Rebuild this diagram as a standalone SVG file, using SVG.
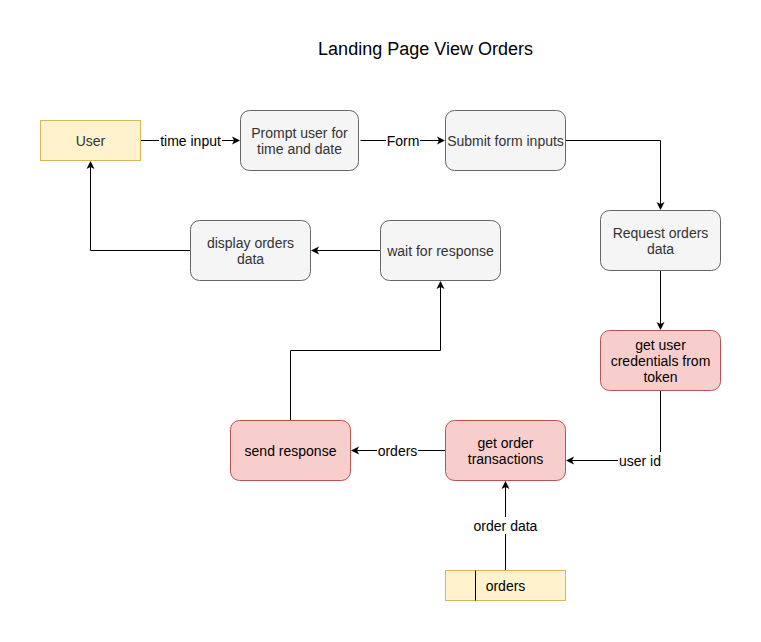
<svg xmlns="http://www.w3.org/2000/svg" width="761" height="642" viewBox="0 0 761 642">
<defs>
<marker id="arr" markerWidth="10" markerHeight="10" refX="7" refY="5" orient="auto" markerUnits="userSpaceOnUse">
<path d="M0,1 L8,5 L0,9 L2,5 Z" fill="#000"/>
</marker>
<style>
text{font-family:"Liberation Sans",Arial,sans-serif;font-size:14px;text-anchor:middle}
.proc{fill:#f5f5f5;stroke:#666;stroke-width:1}
.red{fill:#f8cecc;stroke:#b85450;stroke-width:1}
.ext{fill:#fff2cc;stroke:#d6b656;stroke-width:1}
.t{fill:#333}
.tk{fill:#000}
.edge{fill:none;stroke:#000;stroke-width:1;marker-end:url(#arr)}
.lbl{fill:#000}
.lblbg{fill:#fff}
</style>
</defs>
<rect width="761" height="642" fill="#fff"/>
<text x="425.5" y="55" style="font-size:18px" fill="#000">Landing Page View Orders</text>

<g id="connectors">
<path class="edge" d="M140.5,140.5 L239,140.5"/>
<path class="edge" d="M360.5,140.5 L444,140.5"/>
<path class="edge" d="M565.5,140.5 L660.5,140.5 L660.5,209"/>
<path class="edge" d="M660.5,270.5 L660.5,329"/>
<path class="edge" d="M660.5,390.5 L660.5,460.5 L567,460.5"/>
<path class="edge" d="M445.5,450.5 L352,450.5"/>
<path class="edge" d="M505.5,570.5 L505.5,482"/>
<path class="edge" d="M290.5,420.5 L290.5,350.5 L440.5,350.5 L440.5,282"/>
<path class="edge" d="M380.5,250.5 L312,250.5"/>
<path class="edge" d="M190.5,250.5 L90.5,250.5 L90.5,162"/>
<rect class="lblbg" x="159" y="132" width="63" height="17"/>
<text class="lbl" x="190.5" y="145.5">time input</text>
<rect class="lblbg" x="386" y="132" width="34" height="17"/>
<text class="lbl" x="403" y="145.5">Form</text>
<rect class="lblbg" x="618" y="452" width="44" height="17"/>
<text class="lbl" x="640" y="465.5">user id</text>
<rect class="lblbg" x="377" y="442" width="41" height="17"/>
<text class="lbl" x="397.5" y="455.5">orders</text>
<rect class="lblbg" x="472" y="517" width="67" height="17"/>
<text class="lbl" x="505.5" y="530.5">order data</text>
</g>

<g id="user">
<rect class="ext" x="40.5" y="120.5" width="100" height="40"/>
<text class="t" x="90.5" y="145.5">User</text>
</g>
<g id="prompt">
<rect class="proc" x="240.5" y="110.5" width="118" height="60" rx="9"/>
<text class="t" x="299.5" y="137.5">Prompt user for</text>
<text class="t" x="299.5" y="153.5">time and date</text>
</g>
<g id="submit">
<rect class="proc" x="445.5" y="110.5" width="120" height="60" rx="9"/>
<text class="t" x="505.5" y="145.5">Submit form inputs</text>
</g>
<g id="request">
<rect class="proc" x="600.5" y="210.5" width="120" height="60" rx="9"/>
<text class="t" x="660.5" y="237.5">Request orders</text>
<text class="t" x="660.5" y="253.5">data</text>
</g>
<g id="credentials">
<rect class="red" x="600.5" y="330.5" width="120" height="60" rx="9"/>
<text class="tk" x="660.5" y="349.5">get user</text>
<text class="tk" x="660.5" y="365.5">credentials from</text>
<text class="tk" x="660.5" y="381.5">token</text>
</g>
<g id="transactions">
<rect class="red" x="445.5" y="420.5" width="120" height="60" rx="9"/>
<text class="tk" x="505.5" y="447.5">get order</text>
<text class="tk" x="505.5" y="463.5">transactions</text>
</g>
<g id="send">
<rect class="red" x="230.5" y="420.5" width="120" height="60" rx="9"/>
<text class="tk" x="290.5" y="455.5">send response</text>
</g>
<g id="wait">
<rect class="proc" x="380.5" y="220.5" width="120" height="60" rx="9"/>
<text class="t" x="440.5" y="255.5">wait for response</text>
</g>
<g id="display">
<rect class="proc" x="190.5" y="220.5" width="120" height="60" rx="9"/>
<text class="t" x="250.5" y="247.5">display orders</text>
<text class="t" x="250.5" y="263.5">data</text>
</g>
<g id="orders">
<rect class="ext" x="445.5" y="570.5" width="120" height="30"/>
<line x1="475.5" y1="570.5" x2="475.5" y2="600.5" stroke="#000" stroke-width="1"/>
<text class="tk" x="505.5" y="590.5">orders</text>
</g>
</svg>
